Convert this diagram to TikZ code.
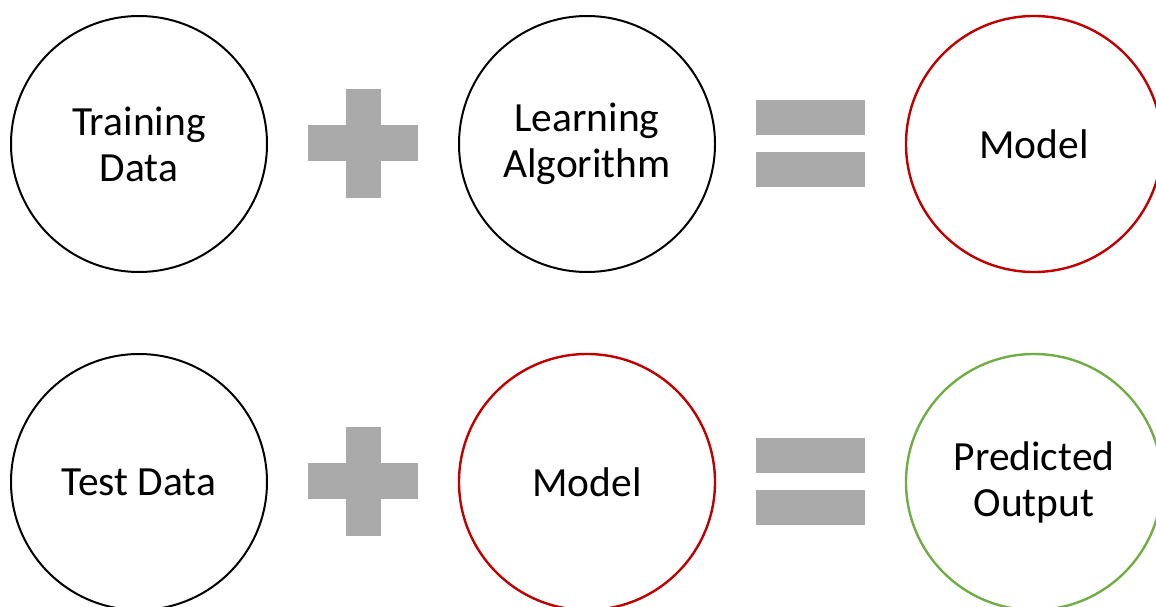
\documentclass[tikz,border=0pt]{standalone}
\usepackage{fontspec}
\setmainfont{Carlito}
\definecolor{opgray}{HTML}{AAAAAA}
\definecolor{modelred}{HTML}{C00000}
\definecolor{outgreen}{HTML}{70AD47}
\tikzset{
  x=1pt, y=-1pt,
  stage/.style={circle, draw=black, line width=2pt, minimum size=256pt, inner sep=0pt,
    align=center, font=\fontsize{41.5}{46}\selectfont},
  modelstage/.style={stage, draw=modelred, line width=2.4pt},
  outstage/.style={stage, draw=outgreen, line width=2.4pt},
  opbar/.style={fill=opgray, draw=none}
}
\begin{document}
\begin{tikzpicture}
\useasboundingbox (0,0) rectangle (1156,607);
\clip (0,0) rectangle (1156,607);
% first row: training
\node[stage]      (train) at (139,144) {Training\\Data};
\node[stage]      (algo)  at (587,144) {Learning\\Algorithm};
\node[modelstage] (model) at (1034,144) {Model};
% second row: prediction
\node[stage]      (test)   at (139,482) {Test Data};
\node[modelstage] (model2) at (587,482) {Model};
\node[outstage]   (pred)   at (1034,482) {Predicted\\Output};
% plus and equals signs
\foreach \dy in {0,338}{
  \fill[opbar] (308,125+\dy) rectangle (418,161+\dy);
  \fill[opbar] (346,89+\dy) rectangle (381,198+\dy);
  \fill[opbar] (756,100+\dy) rectangle (865,135+\dy);
  \fill[opbar] (756,152+\dy) rectangle (865,187+\dy);
}
\end{tikzpicture}
\end{document}
